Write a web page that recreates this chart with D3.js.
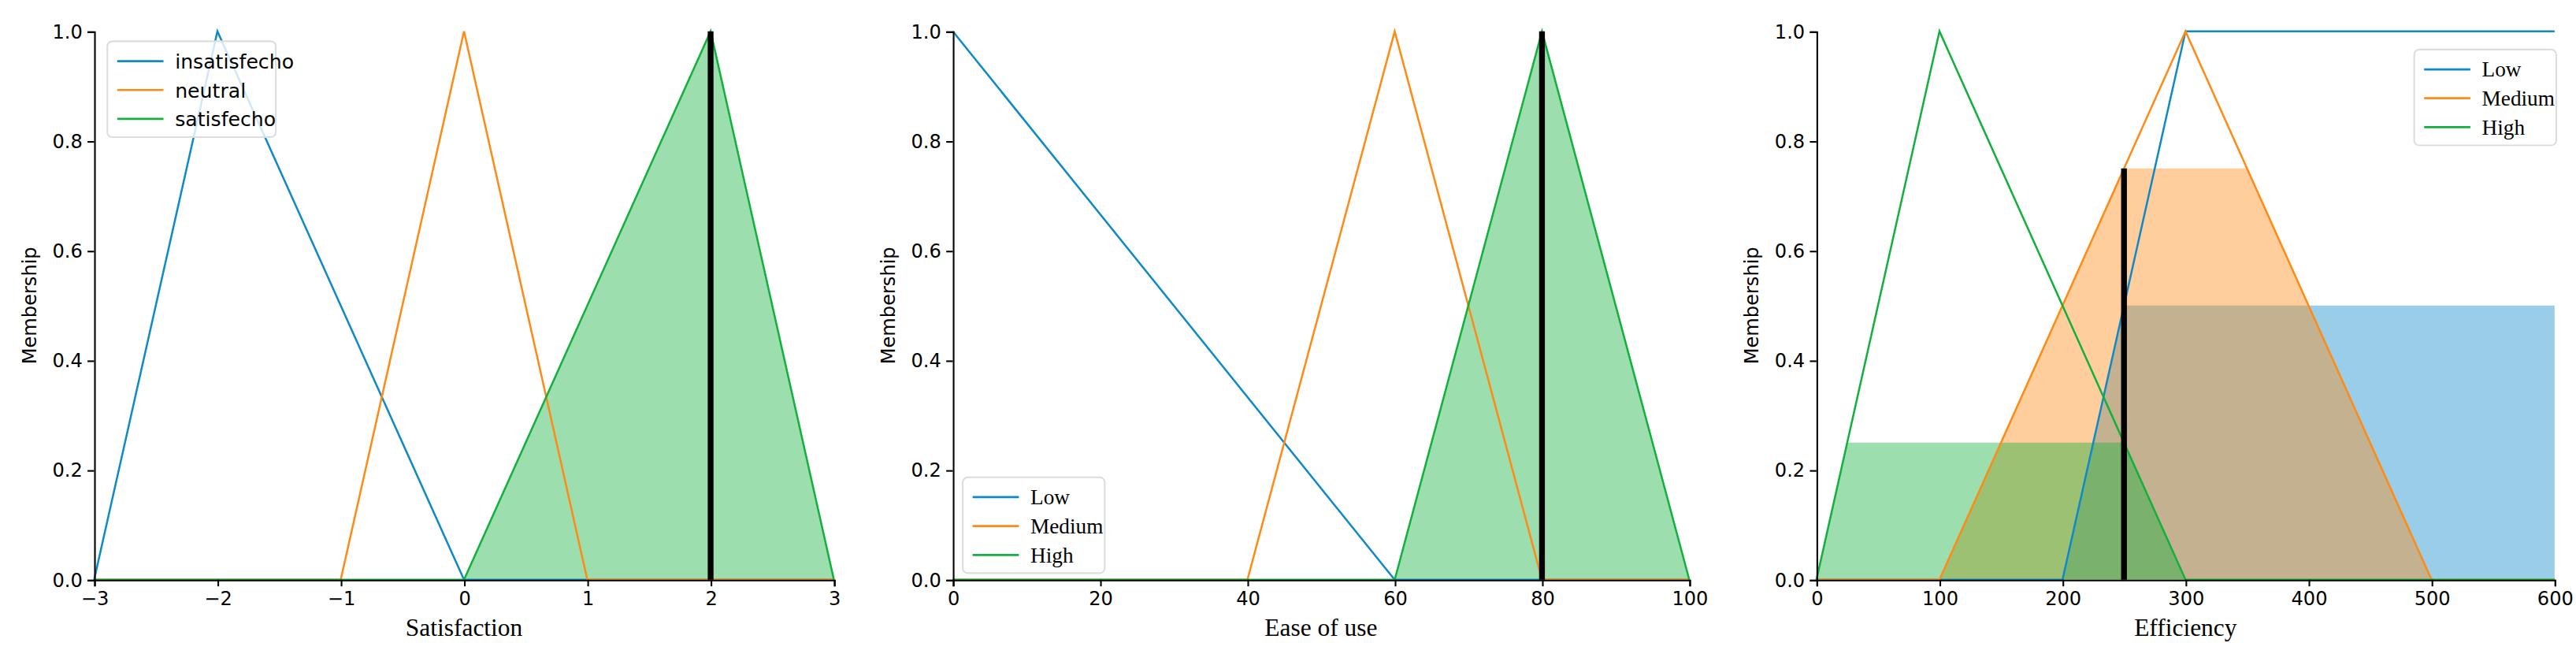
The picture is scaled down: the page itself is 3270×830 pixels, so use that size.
<!DOCTYPE html><html><head><meta charset="utf-8">
<script src="https://cdn.jsdelivr.net/npm/d3@7"></script>
<style>body{margin:0;background:#fff}</style></head><body>
<svg id="c" width="3270" height="830"></svg>
<script>
// Panel 1: Satisfaction
const satLabels = ["insatisfecho","neutral","satisfecho"];
const satX = [[-3,-2,0,3],[-3,-1,0,1,3],[-3,0,2,3]];
const satY = [[0,1,0,0],[0,0,1,0,0],[0,0,1,0]];
const satClip = [0,0,1];
const satCrisp = 2, satCrispH = 1;
// Panel 2: Ease of use
const easeLabels = ["Low","Medium","High"];
const easeX = [[0,60,100],[0,40,60,80,100],[0,60,80,100]];
const easeY = [[1,0,0],[0,0,1,0,0],[0,0,1,0]];
const easeClip = [0,0,1];
const easeCrisp = 80, easeCrispH = 1;
// Panel 3: Efficiency
const effLabels = ["Low","Medium","High"];
const effX = [[0,200,300,600],[0,100,300,500,600],[0,100,300,600]];
const effY = [[0,0,1,1],[0,0,1,0,0],[0,1,0,0]];
const effClip = [0.5,0.75,0.25];
const effCrisp = 250, effCrispH = 0.75;
const yTicks = [0,0.2,0.4,0.6,0.8,1.0];

const colors = ["#0f8ac8","#ff8a14","#12b03c"];
const svg = d3.select("#c").append("g").attr("transform","scale(2.0962)");
const panels = [
 {x0:57,x1:505,dom:[-3,3],ticks:[-3,-2,-1,0,1,2,3],labels:satLabels,xs:satX,ys:satY,clip:satClip,crisp:satCrisp,ch:satCrispH,title:"Satisfaction",legend:"tl",lfont:"DejaVu Sans"},
 {x0:577,x1:1023,dom:[0,100],ticks:[0,20,40,60,80,100],labels:easeLabels,xs:easeX,ys:easeY,clip:easeClip,crisp:easeCrisp,ch:easeCrispH,title:"Ease of use",legend:"bl",lfont:"Liberation Serif"},
 {x0:1100,x1:1547,dom:[0,600],ticks:[0,100,200,300,400,500,600],labels:effLabels,xs:effX,ys:effY,clip:effClip,crisp:effCrisp,ch:effCrispH,title:"Efficiency",legend:"tr",lfont:"Liberation Serif"}
];
const yT=19,yB=351;
panels.forEach(p=>{
 const x=d3.scaleLinear().domain(p.dom).range([p.x0,p.x1]);
 const y=d3.scaleLinear().domain([0,1]).range([yB,yT]);
 const g=svg.append("g");
 p.labels.forEach((l,i)=>{
  if(!p.clip[i]) return;
  const pts=p.xs[i].map((v,j)=>[v,p.ys[i][j]]);
  const dense=[];
  for(let j=0;j<pts.length-1;j++){for(let k=0;k<=200;k++){const t=k/200;dense.push([pts[j][0]+(pts[j+1][0]-pts[j][0])*t,pts[j][1]+(pts[j+1][1]-pts[j][1])*t]);}}
  g.append("path").datum(dense).attr("fill",colors[i]).attr("fill-opacity",0.42)
   .attr("d",d3.area().x(d=>x(d[0])).y0(y(0)).y1(d=>y(Math.min(d[1],p.clip[i]))));
 });
 p.labels.forEach((l,i)=>{
  g.append("path").datum(p.xs[i].map((v,j)=>[v,p.ys[i][j]])).attr("fill","none").attr("stroke",colors[i]).attr("stroke-width",1.2)
   .attr("d",d3.line().x(d=>x(d[0])).y(d=>y(d[1])));
 });
 g.append("line").attr("x1",x(p.crisp)).attr("x2",x(p.crisp)).attr("y1",y(0)).attr("y2",y(p.ch)).attr("stroke","#000").attr("stroke-width",3.5);
 const ax=g.append("g").attr("transform",`translate(0,${yB})`).call(d3.axisBottom(x).tickValues(p.ticks).tickSize(4).tickPadding(3).tickFormat(d3.format("d")));
 const ay=g.append("g").attr("transform",`translate(${p.x0},0)`).call(d3.axisLeft(y).tickValues(yTicks).tickSize(4).tickPadding(3).tickFormat(d3.format(".1f")));
 [ax,ay].forEach(a=>{a.selectAll("text").attr("font-family","DejaVu Sans").attr("font-size",11.5).attr("fill","#000");a.selectAll("path,line").attr("stroke","#000").attr("stroke-width",1);});
 g.append("text").attr("x",(p.x0+p.x1)/2).attr("y",yB+34).attr("text-anchor","middle").attr("font-family","Liberation Serif").attr("font-size",15).text(p.title);
 g.append("text").attr("transform",`translate(${p.x0-35},${(yT+yB)/2}) rotate(-90)`).attr("text-anchor","middle").attr("font-family","DejaVu Sans").attr("font-size",11.5).text("Membership");
 const lw=p.lfont==="DejaVu Sans"?102:86, lh=58;
 let lx,ly;
 if(p.legend==="tl"){lx=p.x0+8;ly=yT+6;} else if(p.legend==="bl"){lx=p.x0+6;ly=yB-lh-4;} else {lx=p.x1-lw+1;ly=yT+11;}
 const lg=g.append("g").attr("transform",`translate(${lx},${ly})`);
 lg.append("rect").attr("width",lw).attr("height",lh).attr("rx",3).attr("fill","#fff").attr("fill-opacity",0.8).attr("stroke","#ddd");
 p.labels.forEach((l,i)=>{
  const yy=12+i*17.5;
  lg.append("line").attr("x1",6).attr("x2",34).attr("y1",yy).attr("y2",yy).attr("stroke",colors[i]).attr("stroke-width",1.3);
  lg.append("text").attr("x",41).attr("y",yy+4.5).attr("font-family",p.lfont).attr("font-size",p.lfont==="DejaVu Sans"?12:13).text(l);
 });
});
</script></body></html>
